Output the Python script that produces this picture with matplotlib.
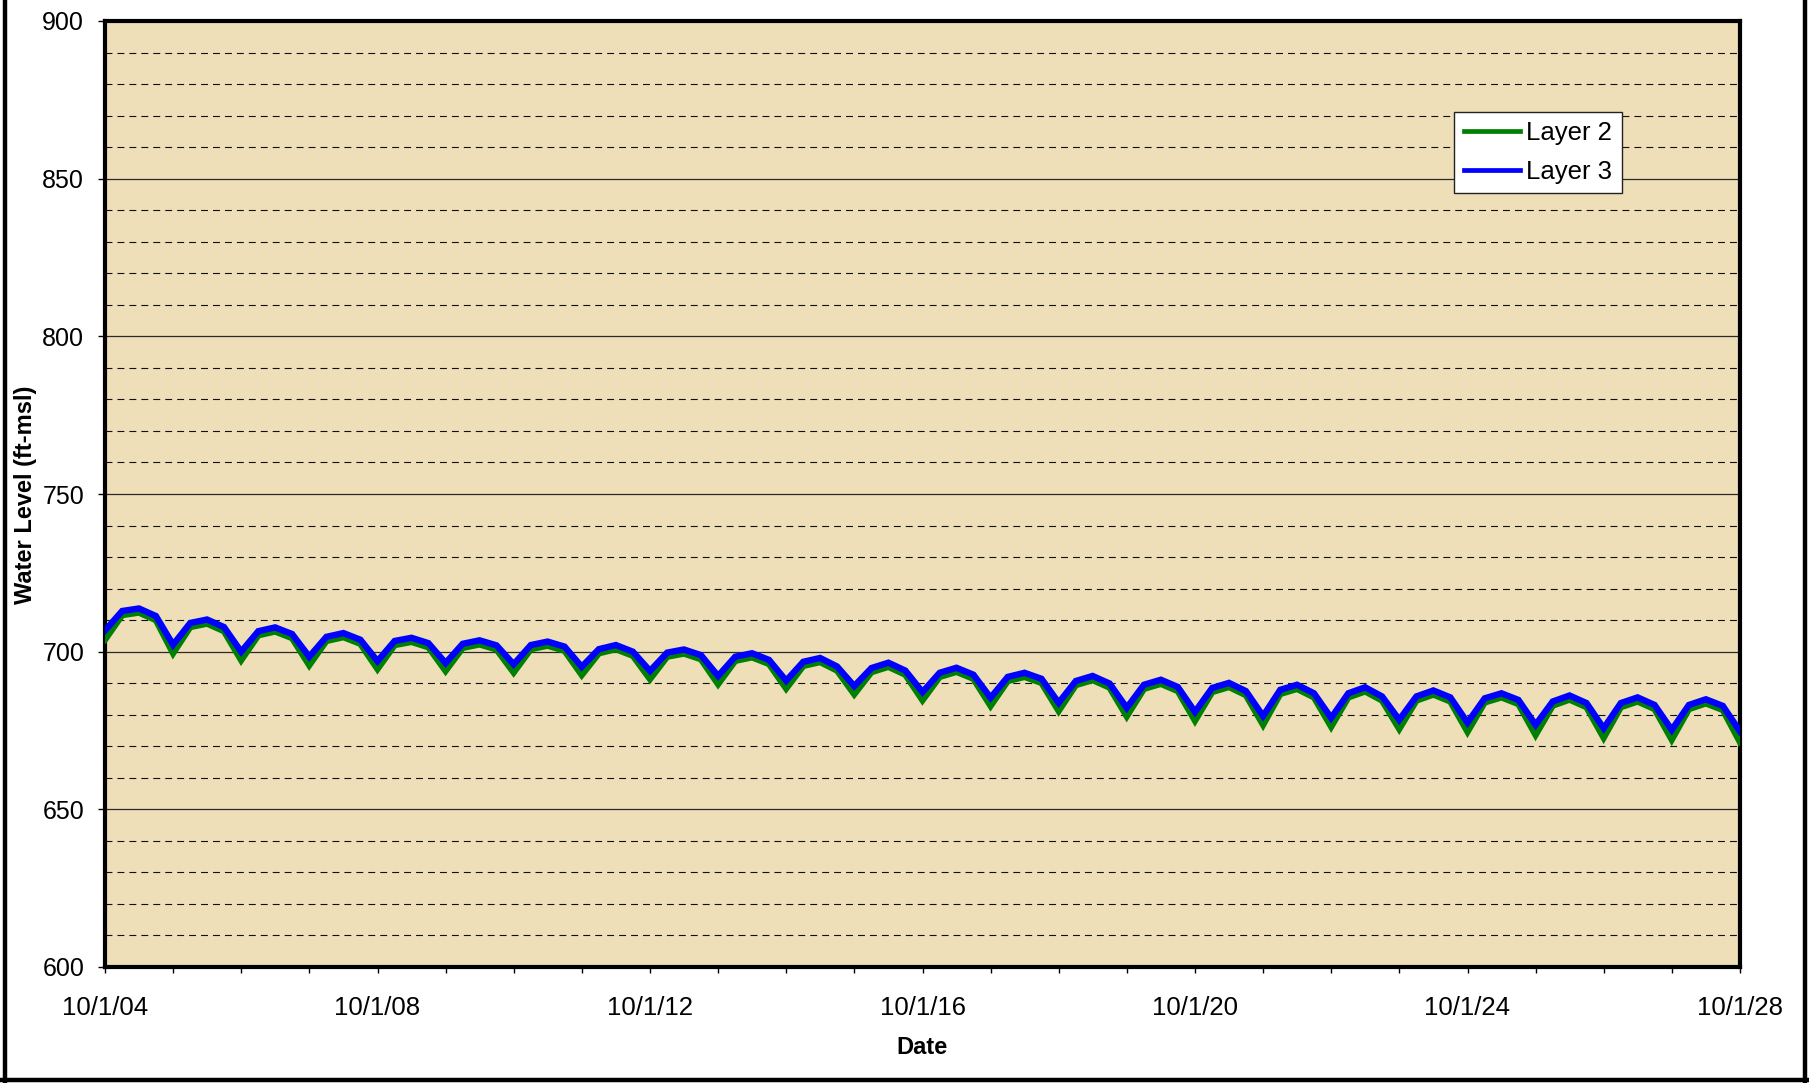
import matplotlib
matplotlib.use("Agg")
import matplotlib.pyplot as plt
from matplotlib.lines import Line2D
import pandas as pd
import datetime as dt

plt.rcParams['font.family'] = ['Liberation Sans', 'DejaVu Sans']
plt.rcParams['lines.scale_dashes'] = False

# ---- data (quarterly, 10/1/2004 .. 10/1/2028) ----
start_date = "2004-10-01"
end_date = "2028-10-01"

layer3 = [
    706.7,
    712.9, 713.7, 711.3, 702.2,
    709.1, 710.2, 707.8, 700.0,
    706.5, 707.7, 705.6, 698.4,
    704.7, 705.9, 703.8, 697.0,
    703.4, 704.4, 702.7, 696.4,
    702.5, 703.6, 702.0, 696.0,
    702.1, 703.2, 701.6, 695.2,
    700.8, 702.1, 700.0, 693.9,
    699.7, 700.7, 698.9, 692.3,
    698.4, 699.5, 697.4, 690.8,
    696.8, 698.0, 695.3, 689.1,
    694.8, 696.5, 694.0, 687.2,
    693.3, 694.9, 692.7, 685.4,
    692.0, 693.3, 691.4, 683.8,
    690.7, 692.3, 689.9, 682.2,
    689.5, 691.1, 688.8, 680.9,
    688.5, 690.1, 687.5, 679.6,
    687.9, 689.5, 686.8, 679.0,
    686.8, 688.7, 685.8, 678.4,
    685.8, 687.7, 685.5, 677.5,
    685.2, 686.8, 684.7, 676.8,
    684.2, 686.1, 683.7, 675.7,
    683.7, 685.5, 683.1, 675.2,
    683.1, 684.9, 682.8, 674.7,
]

layer2 = [
    703.8,
    711.6, 712.4, 710.0, 699.5,
    707.8, 708.9, 706.5, 697.3,
    705.2, 706.4, 704.3, 695.7,
    703.4, 704.6, 702.5, 694.5,
    702.1, 703.1, 701.4, 693.9,
    701.2, 702.3, 700.7, 693.4,
    700.8, 701.9, 700.3, 692.6,
    699.5, 700.8, 698.7, 691.3,
    698.4, 699.4, 697.6, 689.7,
    697.1, 698.2, 696.1, 688.3,
    695.5, 696.7, 694.0, 686.5,
    693.5, 695.2, 692.7, 684.6,
    692.0, 693.6, 691.4, 682.8,
    690.7, 692.0, 690.1, 681.2,
    689.4, 691.0, 688.6, 679.5,
    688.2, 689.8, 687.5, 678.1,
    687.2, 688.8, 686.2, 676.8,
    686.6, 688.2, 685.5, 676.2,
    685.5, 687.4, 684.5, 675.5,
    684.5, 686.4, 684.2, 674.6,
    683.9, 685.5, 683.4, 673.6,
    682.9, 684.8, 682.4, 672.7,
    682.4, 684.2, 681.8, 672.1,
    681.8, 683.6, 681.5, 671.3,
]

tick_years = [2004, 2008, 2012, 2016, 2020, 2024, 2028]
tick_labels = ["10/1/04", "10/1/08", "10/1/12", "10/1/16", "10/1/20", "10/1/24", "10/1/28"]
minor_years = list(range(2004, 2029))
y_ticks = [600, 650, 700, 750, 800, 850, 900]

dates = pd.date_range(start_date, end_date, freq="QS-OCT")

W, H = 1809, 1083
fig = plt.figure(figsize=(W / 100, H / 100), dpi=100)
fig.patch.set_facecolor("white")

l, r, t, b = 105, 1740, 21, 967
ax = fig.add_axes([l / W, 1 - b / H, (r - l) / W, (b - t) / H])
ax.set_facecolor("#EFDFB9")

# grid
for v in range(610, 900, 10):
    if v % 50 == 0:
        ax.axhline(v, color="#2a2a2a", lw=0.9, zorder=1)
    else:
        ax.axhline(v, color="#111111", lw=0.8, dashes=(5.0, 3.6), zorder=1)

ax.plot(dates, layer2, color="#008000", lw=4.6, solid_joinstyle="miter", zorder=3, label="Layer 2")
ax.plot(dates, layer3, color="#0000FF", lw=4.6, solid_joinstyle="miter", zorder=4, label="Layer 3")

ax.set_ylim(600, 900)
ax.set_xlim(dt.datetime(2004, 10, 1), dt.datetime(2028, 10, 1))
ax.set_yticks(y_ticks)
ax.set_yticklabels([str(v) for v in y_ticks])
ax.set_xticks([dt.datetime(y, 10, 1) for y in tick_years])
ax.set_xticklabels(tick_labels)
ax.set_xticks([dt.datetime(y, 10, 1) for y in minor_years], minor=True)

ax.tick_params(axis="y", which="major", direction="out", length=5, width=1, labelsize=18, pad=10)
ax.tick_params(axis="x", which="both", direction="out", length=4, width=1, labelsize=18.5, pad=17)

for s in ax.spines.values():
    s.set_linewidth(3.0)
    s.set_color("black")

# axis labels
fig.text(26 / W, 1 - 494.5 / H, "Water Level (ft-msl)", rotation=90, ha="center", va="center",
         fontsize=17, fontweight="bold")
fig.text(922.5 / W, 1 - 1048 / H, "Date", ha="center", va="center", fontsize=17, fontweight="bold")

# legend
handles = [Line2D([0], [0], color="#008000", lw=3.4), Line2D([0], [0], color="#0000FF", lw=3.4)]
leg = ax.legend(handles, ["Layer 2", "Layer 3"], loc="upper left",
                bbox_to_anchor=(1454 / W, 1 - 111.7 / H), bbox_transform=fig.transFigure,
                fontsize=18.5, frameon=True, fancybox=False, framealpha=1, edgecolor="#222222",
                borderpad=0.38, labelspacing=0.55, handlelength=2.2, handletextpad=0.22,
                borderaxespad=0)
leg.get_frame().set_linewidth(1.0)
leg.set_zorder(10)

# outer border (left, right, bottom)
bw = 3.2
fig.add_artist(Line2D([5 / W, 5 / W], [0, 1], color="black", lw=bw, transform=fig.transFigure))
fig.add_artist(Line2D([1805 / W, 1805 / W], [0, 1], color="black", lw=bw, transform=fig.transFigure))
fig.add_artist(Line2D([0, 1], [1 - 1079.5 / H, 1 - 1079.5 / H], color="black", lw=bw, transform=fig.transFigure))

fig.savefig("out.png", dpi=100)
